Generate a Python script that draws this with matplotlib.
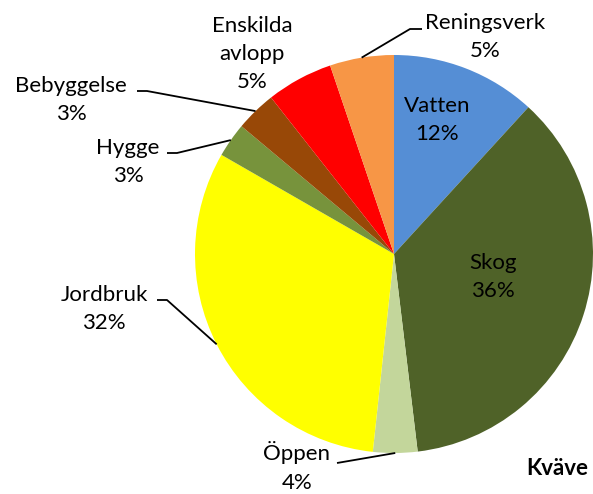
import numpy as np
import matplotlib
matplotlib.use("Agg")
import matplotlib.pyplot as plt

categories = ["Vatten", "Skog", "Öppen", "Jordbruk", "Hygge", "Bebyggelse", "Enskilda\navlopp", "Reningsverk"]
values = [11.8, 36.3, 3.6, 31.6, 2.8, 3.3, 5.4, 5.2]
colors = ["#558ED5", "#4F6228", "#C3D69B", "#FFFF00", "#77933C", "#984807", "#FF0000", "#F79646"]
title = "Kväve"

W, H = 593, 494
fig = plt.figure(figsize=(W / 100, H / 100), dpi=100)
ax = fig.add_axes([0, 0, 1, 1])

FONT = "Lato"
FS = 16
LS = 1.52
cx, cy, R = 394, 254, 199  # pixel coords (y from top)

def py(y):
    return H - y

ax.pie(values, colors=colors, startangle=90, counterclock=False,
       center=(cx, py(cy)), radius=R, frame=True,
       wedgeprops=dict(linewidth=0))
ax.set_xlim(0, W)
ax.set_ylim(0, H)
ax.set_aspect("equal")
ax.axis("off")

total = sum(values)
cum = np.cumsum([0] + values)
mids = [(cum[i] + cum[i + 1]) / 2 / total for i in range(len(values))]

def rim(i, r=R):
    a = np.deg2rad(90 - 360 * mids[i])
    return cx + r * np.cos(a), py(cy) + r * np.sin(a)

def label(i, x, y):
    pct = round(values[i] / total * 100)
    ax.text(x, py(y), f"{categories[i]}\n{pct}%", ha="center", va="center",
            fontsize=FS, family=FONT, linespacing=LS, color="black")

# label positions (pixels, centre of text block)
pos = {0: (437, 120), 1: (493, 277), 2: (297, 467), 3: (104, 309),
       4: (128, 162), 5: (71, 100), 6: (252, 54), 7: (485, 37)}
for i, (x, y) in pos.items():
    label(i, x, y)

# leader lines: (start, elbow) in pixels, then to wedge rim
leaders = {7: [(422, 29), (410, 29)],
           5: [(137, 91), (147, 91)],
           4: [(167, 153), (177, 153)],
           3: [(157, 300), (167, 300)],
           2: [(337, 463), (337, 463)]}
for i, pts in leaders.items():
    xs = [p[0] for p in pts]
    ys = [py(p[1]) for p in pts]
    rx, ry = rim(i)
    xs.append(rx)
    ys.append(ry)
    ax.plot(xs, ys, color="black", lw=1.3, solid_capstyle="butt")

ax.text(557, py(468), title, ha="center", va="center", fontsize=FS,
        family=FONT, fontweight="bold")

fig.savefig("out.png", dpi=100)
